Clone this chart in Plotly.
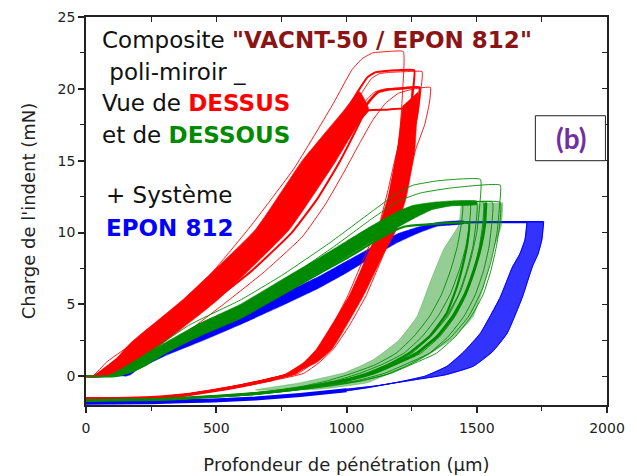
import plotly.graph_objects as go

# ---------------- data ----------------
# Red family (DESSUS): dense bundles given by their two edges
RED_LOAD_LEFT_X = [30, 100, 170, 370, 650, 830, 990, 1050]
RED_LOAD_LEFT_Y = [0, 0.9, 2.3, 5.3, 10.2, 15.0, 18.5, 19.8]
RED_LOAD_RIGHT_X = [95, 180, 295, 505, 780, 960, 1060, 1085]
RED_LOAD_RIGHT_Y = [0, 0.9, 2.3, 5.3, 10.2, 15.0, 18.0, 18.6]
RED_UNLOAD_LEFT_X = [1215, 1195, 1160, 1120, 1090, 1010, 885, 835, 760, 650]
RED_UNLOAD_LEFT_Y = [18.8, 15.75, 12.5, 10.2, 8.8, 5.6, 1.9, 0.95, 0.1, -0.45]
RED_UNLOAD_RIGHT_X = [1275, 1262, 1230, 1190, 1150, 1065, 945, 885, 800, 700]
RED_UNLOAD_RIGHT_Y = [19.8, 15.75, 12.5, 10.2, 8.8, 5.6, 1.9, 0.95, 0.25, -0.2]
RED_TAIL_X = [720, 600, 490, 380, 250, 120, 0]
RED_TAIL_Y = [-0.2, -0.65, -1.0, -1.3, -1.5, -1.57, -1.57]

# Red individual curves
R_TOP_X = [0, 25, 80, 250, 450, 630, 800, 950, 1020, 1060, 1100, 1160, 1218, 1216, 1205, 1185, 1150, 1110, 1070, 1000, 930, 870, 820, 760, 660, 560, 450, 340, 220, 100, 0]
R_TOP_Y = [0, 0, 1.0, 3.2, 6.5, 10.4, 14.5, 19.0, 21.3, 22.1, 22.5, 22.6, 22.6, 20, 17, 14, 11, 8.5, 6.5, 4.0, 2.4, 1.2, 0.5, 0, -0.4, -0.8, -1.1, -1.35, -1.52, -1.57, -1.57]
R_HIGH_X = [0, 30, 90, 200, 400, 560, 710, 810, 890, 960, 1010, 1050, 1080, 1110, 1150, 1200, 1260, 1256, 1242, 1208, 1172, 1132, 1092, 1017, 952, 895, 843, 785, 690, 590, 480, 370, 240, 110, 0]
R_HIGH_Y = [0, 0, 0.8, 2.4, 5.5, 7.8, 10.4, 12.8, 15.0, 17.2, 18.8, 20.0, 20.8, 21.15, 21.25, 21.3, 21.3, 20, 18, 15.75, 13.0, 10.2, 8.8, 5.6, 3.5, 1.9, 0.95, 0.2, -0.25, -0.65, -1.0, -1.3, -1.52, -1.57, -1.57]
R_HIGH2_X = [0, 35, 95, 215, 415, 575, 725, 825, 905, 975, 1025, 1065, 1095, 1125, 1170, 1230, 1290, 1286, 1272, 1238, 1202, 1162, 1122, 1047, 982, 925, 873, 815, 720, 620, 500, 380, 245, 115, 0]
R_HIGH2_Y = [0, 0, 0.75, 2.35, 5.45, 7.75, 10.3, 12.7, 14.9, 17.1, 18.7, 19.9, 20.7, 21.05, 21.15, 21.2, 21.2, 20, 18, 15.75, 13.0, 10.2, 8.8, 5.6, 3.5, 1.9, 0.95, 0.2, -0.25, -0.65, -1.0, -1.3, -1.52, -1.57, -1.57]
R_MID_X = [0, 45, 100, 234, 438, 600, 750, 850, 930, 1000, 1050, 1090, 1120, 1160, 1220, 1280, 1276, 1262, 1225, 1190, 1150, 1110, 1035, 970, 912, 860, 800, 700, 600, 490, 380, 250, 120, 0]
R_MID_Y = [0, 0, 0.7, 2.3, 5.3, 7.6, 10.2, 12.5, 14.8, 16.8, 18.2, 19.2, 19.75, 19.95, 20.05, 20.1, 19.0, 17.5, 15.75, 13.0, 10.2, 8.8, 5.6, 3.5, 1.9, 0.95, 0.2, -0.25, -0.65, -1.0, -1.3, -1.52, -1.57, -1.57]
R_MID2_X = [0, 40, 95, 225, 425, 590, 740, 840, 920, 990, 1040, 1080, 1110, 1150, 1200, 1250, 1246, 1232, 1195, 1160, 1120, 1080, 1005, 945, 890, 840, 785, 690, 590, 480, 370, 240, 115, 0]
R_MID2_Y = [0, 0, 0.7, 2.3, 5.3, 7.6, 10.2, 12.5, 14.8, 16.8, 18.3, 19.3, 19.8, 20.0, 20.05, 20.1, 19.0, 17.5, 15.75, 13.0, 10.2, 8.8, 5.6, 3.5, 1.9, 0.95, 0.2, -0.25, -0.65, -1.0, -1.3, -1.52, -1.57, -1.57]
R_LOW_X = [0, 60, 130, 270, 480, 640, 790, 890, 970, 1030, 1060, 1085, 1150, 1218, 1214, 1200, 1170, 1135, 1095, 1020, 955, 900, 845, 790, 690, 590, 480, 370, 240, 110, 0]
R_LOW_Y = [0, 0, 0.6, 2.2, 5.1, 7.4, 10.0, 12.4, 14.8, 16.9, 18.0, 18.5, 18.55, 18.6, 17.5, 16, 13, 10.2, 8.8, 5.6, 3.5, 1.9, 0.95, 0.2, -0.25, -0.65, -1.0, -1.3, -1.52, -1.57, -1.57]
R_RIGHT_X = [0, 70, 150, 300, 520, 680, 830, 920, 990, 1050, 1100, 1150, 1200, 1260, 1322, 1318, 1300, 1265, 1230, 1190, 1150, 1075, 1010, 950, 895, 835, 730, 630, 520, 400, 260, 130, 0]
R_RIGHT_Y = [0, 0, 0.5, 1.9, 4.9, 7.2, 9.7, 12.0, 14.2, 16.2, 17.8, 19.0, 19.7, 20.0, 20.1, 19.0, 17.5, 15.75, 13.0, 10.2, 8.8, 5.6, 3.5, 1.9, 0.95, 0.2, -0.25, -0.6, -0.95, -1.25, -1.5, -1.57, -1.57]

# Green family (DESSOUS)
GREEN_LOAD_LOW_X = [110, 200, 300, 450, 592, 750, 900, 1000, 1100, 1200, 1260, 1330, 1400, 1500]
GREEN_LOAD_LOW_Y = [0, 0.5, 1.6, 2.9, 4.0, 5.6, 7.2, 8.3, 9.4, 10.4, 11.0, 11.6, 11.85, 11.95]
GREEN_LOAD_UP_X = [80, 120, 200, 300, 450, 592, 750, 900, 1000, 1100, 1200, 1257, 1330, 1400, 1500]
GREEN_LOAD_UP_Y = [0, 0.3, 1.2, 2.3, 3.8, 5.0, 6.7, 8.3, 9.4, 10.5, 11.5, 11.9, 12.1, 12.2, 12.2]
GREEN_UNLOAD_LEFT_X = [1440, 1430, 1372, 1320, 1271, 1200, 1103, 1000, 822, 650]
GREEN_UNLOAD_LEFT_Y = [12.0, 10.5, 8.8, 6.5, 4.17, 2.5, 1.16, 0.3, -0.45, -0.95]
GREEN_UNLOAD_RIGHT_X = [1600, 1595, 1564, 1530, 1487, 1400, 1283, 1180, 1080, 900]
GREEN_UNLOAD_RIGHT_Y = [12.1, 10.5, 8.8, 6.5, 4.17, 2.5, 1.16, 0.3, -0.45, -0.9]
GREEN_CORE_X = [1535, 1530, 1515, 1490, 1455, 1410, 1350, 1270, 1190, 1100, 1000, 900, 800, 650, 489, 300, 0]
GREEN_CORE_Y = [12.1, 10.5, 9.0, 7.4, 5.7, 4.2, 2.8, 1.6, 0.9, 0.2, -0.3, -0.6, -0.9, -1.2, -1.4, -1.6, -1.68]
G_UP1_X = [0, 80, 200, 400, 592, 750, 937, 1100, 1200, 1257, 1350, 1514, 1512, 1500, 1475, 1440, 1390, 1320, 1240, 1160, 1070, 970, 870, 750, 600, 450, 250, 0]
G_UP1_Y = [0, 0, 1.2, 3.6, 5.3, 7.0, 9.3, 11.5, 12.8, 13.3, 13.6, 13.7, 12, 10, 8, 6, 4.2, 2.7, 1.6, 0.8, 0.1, -0.35, -0.7, -1.0, -1.3, -1.45, -1.62, -1.68]
G_UP2_X = [0, 90, 220, 420, 600, 780, 950, 1100, 1200, 1283, 1400, 1590, 1588, 1578, 1555, 1520, 1470, 1400, 1320, 1240, 1150, 1050, 930, 790, 640, 480, 280, 0]
G_UP2_Y = [0, 0, 1.3, 3.5, 5.0, 6.9, 9.0, 11.0, 12.2, 12.75, 13.1, 13.3, 12, 10, 8, 6, 4.2, 2.7, 1.6, 0.8, 0.1, -0.35, -0.7, -1.0, -1.3, -1.45, -1.62, -1.68]
G_LOW_X = [0, 110, 170, 230, 310, 460, 600, 760, 900, 1000, 1100, 1170, 1220, 1300, 1470, 1466, 1450, 1425, 1385, 1320, 1240, 1160, 1070, 970, 870, 750, 600, 450, 250, 0]
G_LOW_Y = [0, 0, 0.3, 0.8, 1.7, 3.1, 4.3, 5.8, 7.2, 8.2, 9.3, 10.0, 10.4, 10.55, 10.65, 9.5, 8, 6.3, 4.4, 2.8, 1.6, 0.8, 0.1, -0.35, -0.7, -1.0, -1.3, -1.45, -1.62, -1.68]
G_RIGHT_X = [1400, 1590, 1588, 1575, 1555, 1525, 1480, 1420, 1345, 1260, 1170, 1060, 950, 840, 680, 500, 300, 0]
G_RIGHT_Y = [12.05, 12.1, 10.5, 9.0, 7.4, 5.7, 4.2, 2.8, 1.6, 0.9, 0.2, -0.3, -0.6, -0.9, -1.2, -1.4, -1.6, -1.68]
G_LEFT_X = [1320, 1445, 1440, 1425, 1400, 1365, 1320, 1260, 1190, 1110, 1020, 930, 830, 700, 550, 400, 200, 0]
G_LEFT_Y = [11.95, 11.95, 10.5, 9.0, 7.4, 5.7, 4.2, 2.8, 1.6, 0.8, 0.2, -0.3, -0.7, -1.05, -1.3, -1.5, -1.64, -1.68]
G_MID_X = [1350, 1500, 1496, 1485, 1462, 1430, 1385, 1325, 1250, 1170, 1080, 990, 890, 760, 600, 430, 230, 0]
G_MID_Y = [12.0, 12.05, 10.5, 9.0, 7.4, 5.7, 4.2, 2.8, 1.6, 0.9, 0.25, -0.25, -0.65, -1.0, -1.25, -1.45, -1.62, -1.68]
G_MID2_X = [1400, 1560, 1557, 1547, 1527, 1495, 1452, 1392, 1318, 1235, 1145, 1040, 935, 820, 660, 480, 280, 0]
G_MID2_Y = [12.05, 12.1, 10.5, 9.0, 7.4, 5.7, 4.2, 2.8, 1.6, 0.9, 0.2, -0.3, -0.6, -0.9, -1.2, -1.4, -1.6, -1.68]
G_MID3_X = [1380, 1475, 1471, 1458, 1433, 1398, 1352, 1292, 1220, 1140, 1050, 960, 860, 730, 580, 420, 220, 0]
G_MID3_Y = [12.0, 12.0, 10.5, 9.0, 7.4, 5.7, 4.2, 2.8, 1.6, 0.85, 0.2, -0.3, -0.65, -1.0, -1.28, -1.47, -1.63, -1.68]
G_MID4_X = [1420, 1525, 1522, 1510, 1490, 1460, 1418, 1360, 1285, 1200, 1110, 1010, 910, 790, 630, 460, 260, 0]
G_MID4_Y = [12.05, 12.1, 10.5, 9.0, 7.4, 5.7, 4.2, 2.8, 1.6, 0.9, 0.22, -0.28, -0.62, -0.95, -1.22, -1.42, -1.6, -1.68]

# Blue family (EPON 812)
BLUE_LOAD_LOW_X = [150, 170, 200, 300, 450, 592, 750, 900, 1000, 1100, 1195, 1280, 1350, 1450]
BLUE_LOAD_LOW_Y = [0, 0.1, 0.5, 1.4, 2.5, 3.6, 4.9, 6.2, 7.2, 8.3, 9.3, 10.0, 10.45, 10.62]
BLUE_LOAD_UP_X = [100, 130, 160, 200, 300, 450, 592, 750, 900, 1000, 1100, 1195, 1280, 1350, 1450]
BLUE_LOAD_UP_Y = [0, 0.1, 0.4, 1.2, 2.2, 3.3, 4.4, 5.7, 7.0, 8.0, 9.0, 9.9, 10.4, 10.7, 10.8]
BLUE_HOLD1_X = [1400, 1550, 1757]
BLUE_HOLD1_Y = [10.72, 10.75, 10.75]
BLUE_HOLD2_X = [1400, 1550, 1693]
BLUE_HOLD2_Y = [10.68, 10.7, 10.7]
BLUE_UNLOAD_LEFT_X = [1693, 1685, 1665, 1637, 1590, 1514, 1450, 1386, 1300, 1200, 1080, 960]
BLUE_UNLOAD_LEFT_Y = [10.75, 9.5, 8.5, 7.6, 5.5, 3.0, 1.7, 0.7, 0.0, -0.4, -0.8, -1.1]
BLUE_UNLOAD_RIGHT_X = [1757, 1750, 1735, 1713, 1675, 1617, 1560, 1487, 1380, 1260, 1120, 960]
BLUE_UNLOAD_RIGHT_Y = [10.75, 9.5, 8.5, 7.6, 5.5, 3.0, 1.7, 0.7, 0.1, -0.25, -0.65, -1.0]
BLUE_TAIL_X = [1000, 822, 650, 489, 250, 0]
BLUE_TAIL_Y = [-0.98, -1.3, -1.55, -1.68, -1.8, -1.85]

X_TICKS = [0, 500, 1000, 1500, 2000]
Y_TICKS = [0, 5, 10, 15, 20, 25]

RED = "#ff0000"
GREEN = "#008a00"
BLUE = "#0000ff"

fig = go.Figure()


def line(x, y, color, width):
    fig.add_trace(go.Scatter(x=x, y=y, mode="lines",
                             line=dict(color=color, width=width, shape="spline", smoothing=0.4),
                             hoverinfo="skip", showlegend=False))


def band(xa, ya, xb, yb, fill):
    fig.add_trace(go.Scatter(x=list(xa) + list(xb)[::-1], y=list(ya) + list(yb)[::-1], mode="lines",
                             fill="toself", fillcolor=fill, line=dict(width=0.6, color=fill, shape="spline", smoothing=0.4),
                             hoverinfo="skip", showlegend=False))


# blue (bottom layer)
band(BLUE_LOAD_LOW_X, BLUE_LOAD_LOW_Y, BLUE_LOAD_UP_X, BLUE_LOAD_UP_Y, BLUE)
line(BLUE_HOLD1_X, BLUE_HOLD1_Y, BLUE, 1.5)
line(BLUE_HOLD2_X, BLUE_HOLD2_Y, BLUE, 1.5)
band(BLUE_UNLOAD_LEFT_X, BLUE_UNLOAD_LEFT_Y, BLUE_UNLOAD_RIGHT_X, BLUE_UNLOAD_RIGHT_Y, "rgba(0,0,255,0.8)")
line(BLUE_UNLOAD_LEFT_X, BLUE_UNLOAD_LEFT_Y, BLUE, 1)
line(BLUE_UNLOAD_RIGHT_X, BLUE_UNLOAD_RIGHT_Y, BLUE, 1)
line(BLUE_TAIL_X, BLUE_TAIL_Y, BLUE, 4)

# red
band(RED_LOAD_LEFT_X, RED_LOAD_LEFT_Y, RED_LOAD_RIGHT_X, RED_LOAD_RIGHT_Y, RED)
band(RED_UNLOAD_LEFT_X, RED_UNLOAD_LEFT_Y, RED_UNLOAD_RIGHT_X, RED_UNLOAD_RIGHT_Y, RED)
line(RED_TAIL_X, RED_TAIL_Y, RED, 3.5)
for cx, cy in [(R_TOP_X, R_TOP_Y), (R_HIGH_X, R_HIGH_Y), (R_HIGH2_X, R_HIGH2_Y), (R_MID_X, R_MID_Y),
               (R_MID2_X, R_MID2_Y), (R_LOW_X, R_LOW_Y), (R_RIGHT_X, R_RIGHT_Y)]:
    line(cx, cy, RED, 0.9)
line(R_MID_X, R_MID_Y, RED, 2.5)
line(R_LOW_X, R_LOW_Y, RED, 2)
line(R_HIGH_X, R_HIGH_Y, RED, 2)

# green (top layer)
band(GREEN_UNLOAD_LEFT_X, GREEN_UNLOAD_LEFT_Y, GREEN_UNLOAD_RIGHT_X, GREEN_UNLOAD_RIGHT_Y, "rgba(0,138,0,0.42)")
band(GREEN_LOAD_LOW_X, GREEN_LOAD_LOW_Y, GREEN_LOAD_UP_X, GREEN_LOAD_UP_Y, GREEN)
line(GREEN_CORE_X, GREEN_CORE_Y, GREEN, 3)
for cx, cy in [(G_UP1_X, G_UP1_Y), (G_UP2_X, G_UP2_Y), (G_RIGHT_X, G_RIGHT_Y), (G_LEFT_X, G_LEFT_Y),
               (G_MID_X, G_MID_Y), (G_MID2_X, G_MID2_Y), (G_MID3_X, G_MID3_Y), (G_MID4_X, G_MID4_Y)]:
    line(cx, cy, GREEN, 0.9)
line(G_LOW_X, G_LOW_Y, GREEN, 2.2)

# dummy trace for mirrored top/right axes
fig.add_trace(go.Scatter(x=[0], y=[0], xaxis="x2", yaxis="y2", mode="markers",
                         marker=dict(opacity=0), hoverinfo="skip", showlegend=False))

FONT = "DejaVu Sans"
axis_common = dict(showgrid=False, zeroline=False, showline=True, linecolor="#222", linewidth=1.5, automargin=False)

# the page body adds an 8px offset, so the figure is 8px smaller on each side
fig.update_layout(
    width=629, height=468,
    margin=dict(l=78, r=30, t=9, b=71),
    paper_bgcolor="white", plot_bgcolor="white",
    font=dict(family=FONT, color="#222"),
    xaxis=dict(range=[0, 2000], tickvals=X_TICKS, ticks="outside", ticklen=6, tickwidth=1.5, tickcolor="#222",
               minor=dict(dtick=250, ticks="outside", ticklen=4, tickcolor="#222", tickwidth=1.2),
               tickfont=dict(size=14, family=FONT, color="#222"), ticklabelstandoff=3,
               title=dict(text="Profondeur de pénétration (µm)", font=dict(size=18, family=FONT, color="#222"), standoff=24),
               **axis_common),
    yaxis=dict(range=[-2, 25], tickvals=Y_TICKS, ticks="outside", ticklen=6, tickwidth=1.5, tickcolor="#222",
               minor=dict(dtick=2.5, ticks="outside", ticklen=4, tickcolor="#222", tickwidth=1.2),
               tickfont=dict(size=14, family=FONT, color="#222"),
               title=dict(text="Charge de l'indent (mN)", font=dict(size=18, family=FONT, color="#222"), standoff=17),
               **axis_common),
    xaxis2=dict(range=[0, 2000], overlaying="x", side="top", dtick=250, tick0=0, ticks="inside", ticklen=5,
                tickcolor="#222", tickwidth=1.2, showticklabels=False, **axis_common),
    yaxis2=dict(range=[-2, 25], overlaying="y", side="right", dtick=2.5, tick0=0, ticks="inside", ticklen=5,
                tickcolor="#222", tickwidth=1.2, showticklabels=False, **axis_common),
)

TXT = 23
ann = [
    (54, 23.4, 'Composite <b><span style="color:#8b1515">"VACNT-50 / EPON 812"</span></b>'),
    (54, 21.2, ' poli-miroir _'),
    (54, 19.0, 'Vue de <b><span style="color:#ff0000">DESSUS</span></b>'),
    (54, 16.8, 'et de <b><span style="color:#008a00">DESSOUS</span></b>'),
    (69, 12.6, '+ Système'),
    (69, 10.3, '<b><span style="color:#0000ff">EPON 812</span></b>'),
]
for x, y, t in ann:
    fig.add_annotation(x=x, y=y, xref="x", yref="y", text=t, showarrow=False, xanchor="left", yanchor="middle",
                       font=dict(size=TXT, family=FONT, color="#111"))

fig.add_shape(type="rect", x0=1725, x1=1994, y0=15.0, y1=18.13, xref="x", yref="y",
              line=dict(color="#222", width=1), fillcolor="white")
fig.add_annotation(x=1860, y=16.55, xref="x", yref="y", text="<b>(b)</b>", showarrow=False,
                   font=dict(size=28, family="Lato", color="#7030a0"))

fig.write_html("out.html")
